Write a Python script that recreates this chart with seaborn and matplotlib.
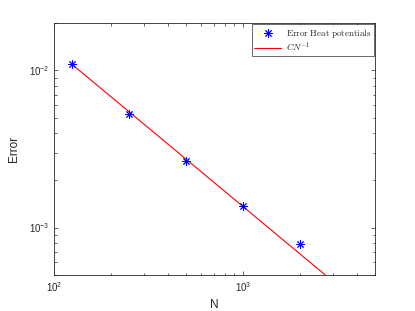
import matplotlib
matplotlib.use('Agg')
import matplotlib.pyplot as plt
import seaborn as sns
import numpy as np
import pandas as pd

# data
N = [125, 250, 500, 1000, 2000]
erro = [0.0109, 0.00527, 0.00265, 0.00138, 0.00079]
C = 1.36
N_linha = [125, 5000]

sns.set_style('ticks')
plt.rcParams['font.family'] = ['Liberation Sans', 'DejaVu Sans']
plt.rcParams['mathtext.fontset'] = 'cm'

df = pd.DataFrame({'N': N, 'Erro': erro})
df_linha = pd.DataFrame({'N': N_linha, 'C': [C / n for n in N_linha]})

fig = plt.figure(figsize=(4.15, 3.11), dpi=100)
ax = fig.add_axes([0.13, 0.116, 0.774, 0.81])

sns.lineplot(x='N', y='C', data=df_linha, color='#ff0000', linewidth=0.8,
             ax=ax, label=r'$CN^{-1}$', zorder=2)
sns.scatterplot(x='N', y='Erro', data=df, marker=(8, 2, 0), s=30,
                color='#0000ff', edgecolor='#0000ff', linewidth=0.7, ax=ax,
                label=r'$\mathrm{Error\ Heat\ potentials}$', zorder=3)

ax.set_xscale('log')
ax.set_yscale('log')
ax.set_xlim(100, 5000)
ax.set_ylim(5e-4, 2e-2)
ax.set_xlabel('N', fontsize=8.5, color='#262626')
ax.set_ylabel('Error', fontsize=8.5, color='#262626', labelpad=6)

for s in ax.spines.values():
    s.set_visible(True)
    s.set_color('#262626')
    s.set_linewidth(0.6)
ax.tick_params(which='both', direction='in', top=True, right=True,
               labelsize=7, colors='#262626', width=0.5)
ax.tick_params(which='major', length=3)
ax.tick_params(which='minor', length=1.8)

h, l = ax.get_legend_handles_labels()
leg = ax.legend(h[::-1], l[::-1], loc='upper right', fontsize=6.5,
                frameon=True, fancybox=False, edgecolor='#262626',
                borderaxespad=0.1, handlelength=3.0, borderpad=0.3,
                labelspacing=0.1, handletextpad=0.5)
leg.get_frame().set_linewidth(0.6)

plt.savefig('out.png', dpi=100)
